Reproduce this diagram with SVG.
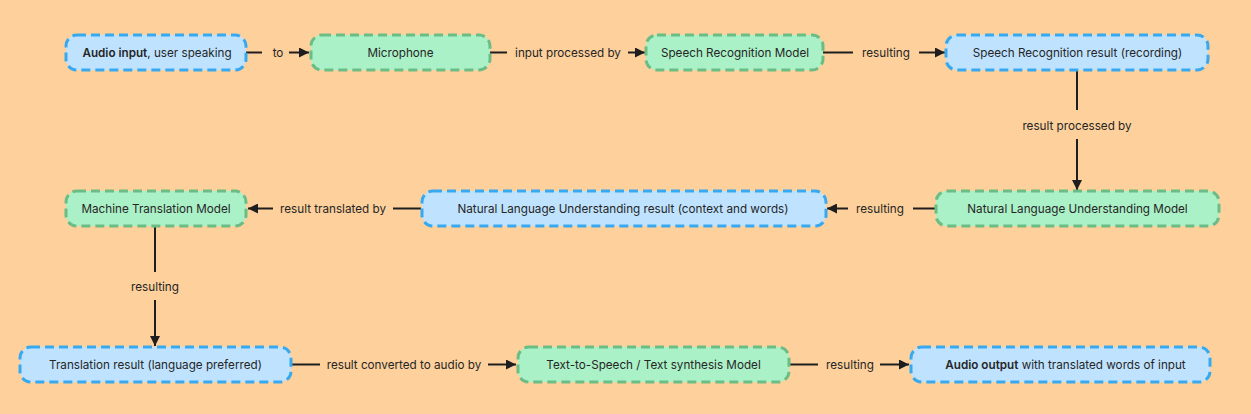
<svg xmlns="http://www.w3.org/2000/svg" width="1251" height="414" viewBox="0 0 1251 414">
<defs>
<marker id="ah" viewBox="0 0 10 10" refX="10" refY="5" markerWidth="10" markerHeight="10" markerUnits="userSpaceOnUse" orient="auto">
<path d="M0,0 L10,5 L0,10 Z" fill="#1e1e1e"/>
</marker>
<style>
.blue{fill:#bfe3ff;stroke:#38a9ef;stroke-width:3;stroke-dasharray:9 5}
.green{fill:#abf1c7;stroke:#6bbd85;stroke-width:3;stroke-dasharray:9 5}
.t{font-family:Inter,"Liberation Sans",sans-serif;font-size:11.7px;fill:#262626;text-anchor:middle;dominant-baseline:central}
.b{font-weight:600}
.c{stroke:#1e1e1e;stroke-width:2;fill:none}
.a{marker-end:url(#ah)}
</style>
</defs>
<rect width="1251" height="414" fill="#fdd09c"/>
<g id="connectors">
<path class="c" d="M246,52.5 H262"/><path class="c a" d="M289,52.5 H309"/>
<text class="t" x="278" y="52.5">to</text>
<path class="c" d="M490,52.5 H507"/><path class="c a" d="M628,52.5 H645"/>
<text class="t" x="568" y="52.5">input processed by</text>
<path class="c" d="M823,52.5 H853"/><path class="c a" d="M919,52.5 H945"/>
<text class="t" x="886" y="52.5">resulting</text>
<path class="c" d="M1077,70 V110"/><path class="c a" d="M1077,139 V190"/>
<text class="t" x="1077" y="126">result processed by</text>
<path class="c" d="M935,208.5 H913"/><path class="c a" d="M848,208.5 H827"/>
<text class="t" x="880" y="208.5">resulting</text>
<path class="c" d="M421,208.5 H393"/><path class="c a" d="M273,208.5 H248"/>
<text class="t" x="333" y="208.5">result translated by</text>
<path class="c" d="M155,226 V272"/><path class="c a" d="M155,300 V346"/>
<text class="t" x="155" y="287">resulting</text>
<path class="c" d="M291,364.5 H320"/><path class="c a" d="M488,364.5 H516"/>
<text class="t" x="404" y="364.5">result converted to audio by</text>
<path class="c" d="M789,364.5 H818"/><path class="c a" d="M880,364.5 H909"/>
<text class="t" x="850" y="364.5">resulting</text>
</g>
<g id="audio-input"><rect class="blue" x="66" y="35" width="180" height="35" rx="11"/><text class="t" x="157" y="52.5"><tspan class="b">Audio input</tspan>, user speaking</text></g>
<g id="microphone"><rect class="green" x="311" y="35" width="179" height="35" rx="11"/><text class="t" x="400.5" y="52.5">Microphone</text></g>
<g id="speech-recognition-model"><rect class="green" x="646" y="35" width="177" height="35" rx="11"/><text class="t" x="735" y="52.5">Speech Recognition Model</text></g>
<g id="speech-recognition-result"><rect class="blue" x="946" y="35" width="262" height="35" rx="11"/><text class="t" x="1077.5" y="52.5">Speech Recognition result (recording)</text></g>
<g id="nlu-model"><rect class="green" x="936" y="191" width="283" height="35" rx="11"/><text class="t" x="1077.5" y="208.5">Natural Language Understanding Model</text></g>
<g id="nlu-result"><rect class="blue" x="422" y="191" width="404" height="35" rx="11"/><text class="t" x="623" y="208.5">Natural Language Understanding result (context and words)</text></g>
<g id="machine-translation-model"><rect class="green" x="66" y="191" width="180" height="35" rx="11"/><text class="t" x="156" y="208.5">Machine Translation Model</text></g>
<g id="translation-result"><rect class="blue" x="20" y="347" width="271" height="35" rx="11"/><text class="t" x="155.5" y="364.5">Translation result (language preferred)</text></g>
<g id="tts-model"><rect class="green" x="518" y="347" width="271" height="35" rx="11"/><text class="t" x="653.5" y="364.5">Text-to-Speech / Text synthesis Model</text></g>
<g id="audio-output"><rect class="blue" x="911" y="347" width="299" height="35" rx="11"/><text class="t" x="1065.5" y="364.5"><tspan class="b">Audio output</tspan> with translated words of input</text></g>
</svg>
